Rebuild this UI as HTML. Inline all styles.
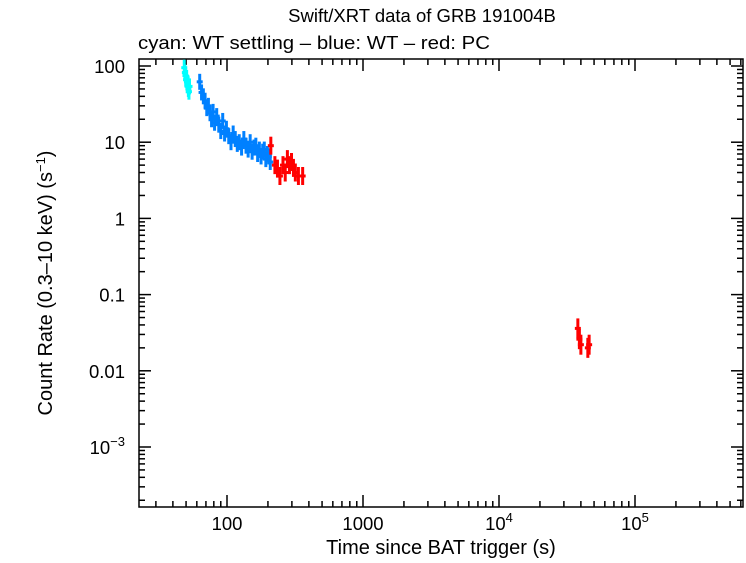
<!DOCTYPE html>
<html><head><meta charset="utf-8"><style>
body{margin:0;background:#fff;width:746px;height:558px;overflow:hidden;font-family:"Liberation Sans",sans-serif}
svg text{font-family:"Liberation Sans",sans-serif;fill:#000}
</style></head><body>
<svg id="chart" width="746" height="558">
<text x="422" y="22" font-size="18.5" text-anchor="middle">Swift/XRT data of GRB 191004B</text>
<text x="138" y="49" font-size="18.5" textLength="352" lengthAdjust="spacingAndGlyphs">cyan: WT settling – blue: WT – red: PC</text>
<text x="441" y="554" font-size="20" text-anchor="middle">Time since BAT trigger (s)</text>
<text transform="translate(52,283) rotate(-90)" font-size="20" text-anchor="middle">Count Rate (0.3–10 keV) (s<tspan dy="-7" font-size="13">−1</tspan><tspan dy="7">)</tspan></text>
<rect x="139" y="59" width="604" height="448" fill="none" stroke="#000" stroke-width="1.5"/>
<g id="ticks"></g><g id="marks"></g>
</svg>
<script>
const cyanT=[48.5,49,49.5,50,50.5,51,51.5,52,52.5,53];
const cyanR=[95,82,75,66,70,56,60,50,46,54];
const blueT=[63,65,67,69,71,73,75,77,79,81,84,87,90,93,96,99,103,107,111,115,119,123,128,133,138,143,148,153,158,163,168,173,178,183,188,193,198,203,208];
const blueR=[62,45,40,35,28,30,24,20,25,18,22,17,14,19,13,15,12,10,13,11,9.5,10,8.5,11,9,8,10,7.5,8.5,9,7,8,6.5,7.5,8,6,7,6.5,5.5];
const redT=[210,225,235,245,258,268,278,288,298,308,318,335,360];
const redR=[9,5,4.5,3.6,5,4,6,5,5.5,4.6,4,3.6,3.6];
const lateT=[38000,39000,40000,45000,46000];
const lateR=[0.036,0.026,0.022,0.02,0.022];
const xTickVals=[100,1000,10000,100000];
const xTickLabels=["100","1000","10^4","10^5"];
const yTickVals=[100,10,1,0.1,0.01,0.001];
const yTickLabels=["100","10","1","0.1","0.01","10^−3"];
const X0=139,X1=743,Y0=59,Y1=507;
function xs(t){return 227+(Math.log10(t)-2)*136;}
function ys(r){return 66+(2-Math.log10(r))*76.2;}
const NS="http://www.w3.org/2000/svg";
const tk=document.getElementById('ticks'),mk=document.getElementById('marks');
function ln(p,x1,y1,x2,y2,c,w){const l=document.createElementNS(NS,'line');l.setAttribute('x1',x1);l.setAttribute('y1',y1);l.setAttribute('x2',x2);l.setAttribute('y2',y2);l.setAttribute('stroke',c);l.setAttribute('stroke-width',w);p.appendChild(l);return l;}
function lbl(x,y,s,anchor){const t=document.createElementNS(NS,'text');t.setAttribute('x',x);t.setAttribute('y',y);t.setAttribute('font-size','18.5');t.setAttribute('text-anchor',anchor);
 const parts=s.split('^');t.appendChild(document.createTextNode(parts[0]));
 if(parts[1]){const sp=document.createElementNS(NS,'tspan');sp.setAttribute('dy','-8');sp.setAttribute('font-size','13');sp.textContent=parts[1];t.appendChild(sp);}
 tk.appendChild(t);return t;}
for(let d=1;d<=5;d++)for(let m=1;m<=9;m++){const v=m*Math.pow(10,d);const x=xs(v);if(x<X0||x>X1)continue;const L=m==1?12:6;
 const a=ln(tk,x,Y1,x,Y1-L,'#000',1.5);
 const b=ln(tk,x,Y0,x,Y0+L,'#000',1.5);}
for(let d=-4;d<=2;d++)for(let m=1;m<=9;m++){const v=m*Math.pow(10,d);const y=ys(v);if(y<Y0||y>Y1)continue;const L=m==1?12:6;
 const a=ln(tk,X0,y,X0+L,y,'#000',1.5);
 const b=ln(tk,X1,y,X1-L,y,'#000',1.5);}
xTickVals.forEach((v,i)=>{const t=lbl(xs(v),530,xTickLabels[i],'middle');

});
yTickVals.forEach((v,i)=>{const t=lbl(125,ys(v)+7,yTickLabels[i],'end');

});
function series(T,R,c,name,ey){T.forEach((t,i)=>{const x=xs(t),y=ys(R[i]);const g=document.createElementNS(NS,'g');


 const dx=Math.max(3,(xs(t*1.03)-x));ln(g,x-dx,y,x+dx,y,c,3);ln(g,x,y-ey,x,y+ey,c,3);mk.appendChild(g);});}
series(cyanT,cyanR,'#00ffff','cyan',8);
series(blueT,blueR,'#0080ff','blue',8);
series(redT,redR,'#ff0000','red',9);
series(lateT,lateR,'#ff0000','late-red',10);
</script>
</body></html>
